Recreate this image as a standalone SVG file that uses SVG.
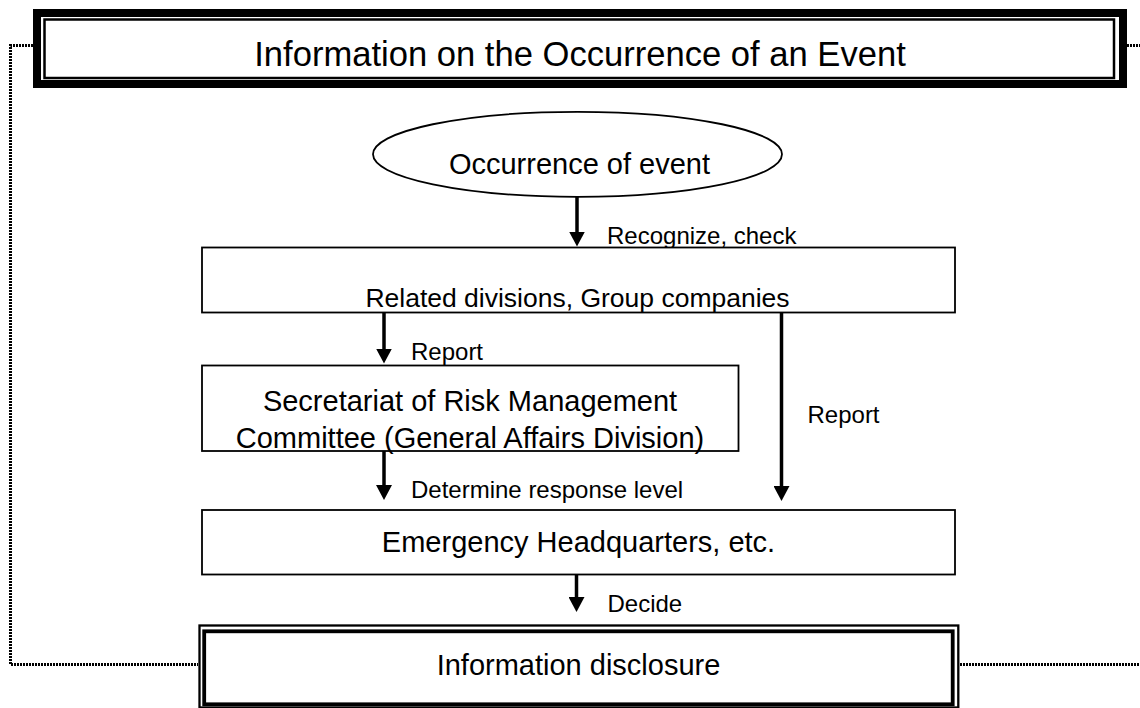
<svg xmlns="http://www.w3.org/2000/svg" width="1140" height="708" viewBox="0 0 1140 708">
<style>
text{font-family:"Liberation Sans",Arial,Helvetica,sans-serif;fill:#000}
.t29{font-size:29px}
.lbl{font-size:24px}
.box{fill:#fff;stroke:#000;stroke-width:1.8}
.arr{fill:none;stroke:#000;stroke-width:3.5}
.dot{fill:none;stroke:#000;stroke-width:3;stroke-dasharray:2 1}
</style>
<defs>
<marker id="ah" viewBox="0 0 15 16" refX="7" refY="8" markerWidth="15" markerHeight="16" markerUnits="userSpaceOnUse" orient="auto">
<path d="M0,0 L15,8 L0,16 z" fill="#000"/>
</marker>
</defs>
<rect width="1140" height="708" fill="#fff"/>
<g id="connectors">
<path class="dot" d="M33,45.5 H10.5 V664.5 H198"/>
<path class="dot" d="M1127,45.5 H1140"/>
<path class="dot" d="M960,664.5 H1140"/>
<line class="arr" x1="577" y1="197" x2="577" y2="238.5" marker-end="url(#ah)"/>
<line class="arr" x1="384" y1="313" x2="384" y2="355.5" marker-end="url(#ah)"/>
<line class="arr" x1="781.5" y1="313" x2="781.5" y2="493" marker-end="url(#ah)"/>
<line class="arr" x1="384" y1="451" x2="384" y2="492" marker-end="url(#ah)"/>
<line class="arr" x1="576.5" y1="574" x2="576.5" y2="604" marker-end="url(#ah)"/>
<text class="lbl" x="607" y="244">Recognize, check</text>
<text class="lbl" x="411" y="360">Report</text>
<text class="lbl" x="807.5" y="422.5">Report</text>
<text class="lbl" x="411" y="498">Determine response level</text>
<text class="lbl" x="607.5" y="611.5">Decide</text>
</g>
<g id="title">
<rect x="37" y="13" width="1086" height="71" fill="#fff" stroke="#000" stroke-width="8"/>
<rect x="44.5" y="19.5" width="1069.5" height="58.5" fill="none" stroke="#000" stroke-width="2.5"/>
<text x="580" y="66" text-anchor="middle" font-size="34.6">Information on the Occurrence of an Event</text>
</g>
<g id="occurrence">
<ellipse cx="577.5" cy="154.3" rx="204.5" ry="42.5" class="box"/>
<text class="t29" x="579.5" y="173.5" text-anchor="middle">Occurrence of event</text>
</g>
<g id="related">
<rect class="box" x="202" y="247.5" width="753" height="65"/>
<text x="577.5" y="307" text-anchor="middle" font-size="26.5">Related divisions, Group companies</text>
</g>
<g id="secretariat">
<rect class="box" x="202" y="365.5" width="536.5" height="85.5"/>
<text class="t29" x="470" y="410.5" text-anchor="middle">Secretariat of Risk Management</text>
<text class="t29" x="470" y="448" text-anchor="middle">Committee (General Affairs Division)</text>
</g>
<g id="emergency">
<rect class="box" x="202" y="510" width="753" height="64.5"/>
<text class="t29" x="578.5" y="552" text-anchor="middle">Emergency Headquarters, etc.</text>
</g>
<g id="disclosure">
<rect x="199.5" y="625.5" width="758.8" height="82" fill="#fff" stroke="#000" stroke-width="2.3"/>
<rect x="204.2" y="631.3" width="748.5" height="73" fill="none" stroke="#000" stroke-width="3.8"/>
<text class="t29" x="578.5" y="675" text-anchor="middle">Information disclosure</text>
</g>
</svg>
